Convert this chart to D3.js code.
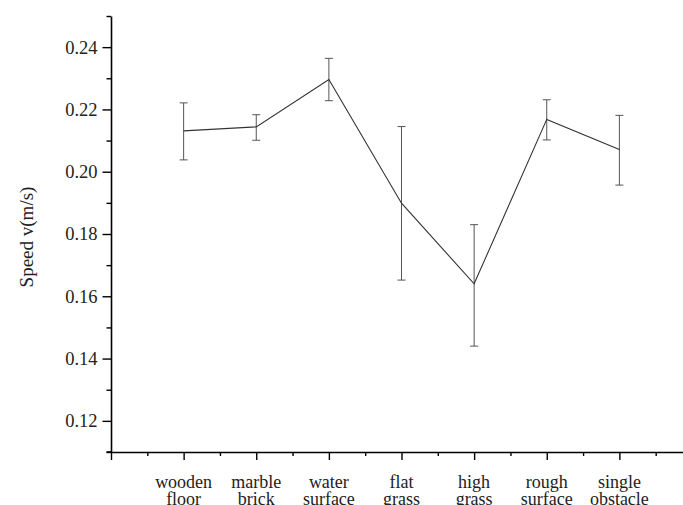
<!DOCTYPE html>
<html>
<head>
<meta charset="utf-8">
<script src="https://cdn.jsdelivr.net/npm/d3@7"></script>
<style>
  body { margin: 0; background: #fff; }
  svg text { font-family: 'Liberation Serif', 'Times New Roman', serif; fill: #222; }
</style>
</head>
<body>
<div id="chart"></div>
<script>
// data
const categories = [
  ['wooden', 'floor'],
  ['marble', 'brick'],
  ['water', 'surface'],
  ['flat', 'grass'],
  ['high', 'grass'],
  ['rough', 'surface'],
  ['single', 'obstacle'],
];
const speeds = [0.2131, 0.2144, 0.2296, 0.1899, 0.1640, 0.2168, 0.2071];
const errUpper = [0.2221, 0.2183, 0.2364, 0.2145, 0.1830, 0.2231, 0.2181];
const errLower = [0.2038, 0.2101, 0.2228, 0.1652, 0.1440, 0.2102, 0.1957];
const yMajorTicks = [0.12, 0.14, 0.16, 0.18, 0.20, 0.22, 0.24];
const yMinorTicks = [0.11, 0.13, 0.15, 0.17, 0.19, 0.21, 0.23, 0.25];

const drawChart = () => {
  let width = 683;
  let height = 505;

  let svg = d3
    .select('#chart')
    .append('svg')
    .attr('width', width)
    .attr('height', height);

  // x is positional: category i sits at i + 1
  let x = d3.scaleLinear().domain([0, 8]).range([111, 692]);
  let y = d3.scaleLinear().domain([0.11, 0.25]).range([452, 16]);

  let majorX = d3.range(0, 9);
  let minorX = d3.range(0.5, 8, 1);

  // y axis minor ticks
  svg
    .append('g')
    .attr('transform', `translate(${x(0)},0)`)
    .call(d3.axisLeft(y).tickValues(yMinorTicks).tickSize(4.5).tickFormat(''))
    .call((g) => g.select('.domain').remove())
    .selectAll('line')
    .attr('stroke', '#000')
    .attr('stroke-width', 1.4);

  // y axis major ticks
  let yAxis = svg
    .append('g')
    .attr('transform', `translate(${x(0)},0)`)
    .call(
      d3
        .axisLeft(y)
        .tickValues(yMajorTicks)
        .tickSize(8.5)
        .tickPadding(5)
        .tickSizeOuter(0)
        .tickFormat(d3.format('.2f'))
    );
  yAxis.select('.domain').attr('stroke', '#000').attr('stroke-width', 1.6);
  yAxis.selectAll('line').attr('stroke', '#000').attr('stroke-width', 1.4);
  yAxis
    .selectAll('text')
    .attr('font-size', 18.5)
    .attr('font-family', "'Liberation Serif', serif")
    .style('fill', '#222');

  // x axis minor ticks
  svg
    .append('g')
    .attr('transform', `translate(0,${y(0.11)})`)
    .call(d3.axisBottom(x).tickValues(minorX).tickSize(4).tickFormat(''))
    .call((g) => g.select('.domain').remove())
    .selectAll('line')
    .attr('stroke', '#000')
    .attr('stroke-width', 1.4);

  // x axis major ticks
  let xAxis = svg
    .append('g')
    .attr('transform', `translate(0,${y(0.11)})`)
    .call(d3.axisBottom(x).tickValues(majorX).tickSize(8).tickSizeOuter(0).tickFormat(''));
  xAxis.select('.domain').attr('stroke', '#000').attr('stroke-width', 1.6);
  xAxis.selectAll('line').attr('stroke', '#000').attr('stroke-width', 1.4);

  // extend x axis line a little left of the y axis (as in reference)
  svg
    .append('line')
    .attr('x1', x(0) - 4.5)
    .attr('x2', x(0))
    .attr('y1', y(0.11))
    .attr('y2', y(0.11))
    .attr('stroke', '#000')
    .attr('stroke-width', 1.6);

  // category labels, two lines each
  let labels = svg
    .selectAll('.cat-label')
    .data(categories)
    .enter()
    .append('text')
    .attr('class', 'cat-label')
    .attr('text-anchor', 'middle')
    .attr('font-size', 18);

  labels
    .selectAll('tspan')
    .data((d, i) => d.map((t) => ({ t, i })))
    .enter()
    .append('tspan')
    .attr('x', (d) => x(d.i + 1))
    .attr('y', (d, j) => 488 + j * 16.5)
    .text((d) => d.t);

  // y axis title
  svg
    .append('text')
    .attr('transform', `translate(33, 237) rotate(-90)`)
    .attr('text-anchor', 'middle')
    .attr('font-size', 19)
    .text('Speed v(m/s)');

  // error bars
  let capHalf = 4;
  let bars = svg
    .selectAll('.err')
    .data(speeds)
    .enter()
    .append('g')
    .attr('class', 'err')
    .attr('stroke', '#555')
    .attr('stroke-width', 1);

  bars
    .append('line')
    .attr('x1', (d, i) => x(i + 1))
    .attr('x2', (d, i) => x(i + 1))
    .attr('y1', (d, i) => y(errUpper[i]))
    .attr('y2', (d, i) => y(errLower[i]));

  bars
    .append('line')
    .attr('x1', (d, i) => x(i + 1) - capHalf)
    .attr('x2', (d, i) => x(i + 1) + capHalf)
    .attr('y1', (d, i) => y(errUpper[i]))
    .attr('y2', (d, i) => y(errUpper[i]));

  bars
    .append('line')
    .attr('x1', (d, i) => x(i + 1) - capHalf)
    .attr('x2', (d, i) => x(i + 1) + capHalf)
    .attr('y1', (d, i) => y(errLower[i]))
    .attr('y2', (d, i) => y(errLower[i]));

  // mean line
  let line = d3
    .line()
    .x((d, i) => x(i + 1))
    .y((d) => y(d));

  svg
    .append('path')
    .datum(speeds)
    .attr('d', line)
    .attr('fill', 'none')
    .attr('stroke', '#333')
    .attr('stroke-width', 1.1);
};

drawChart();
</script>
</body>
</html>
